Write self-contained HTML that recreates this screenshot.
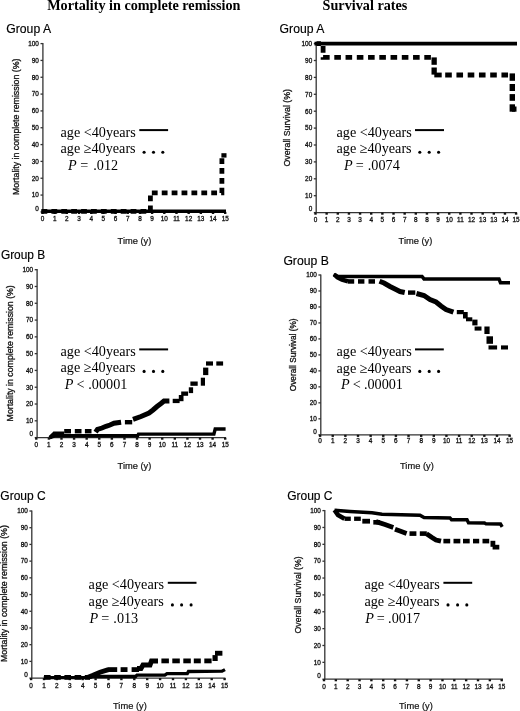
<!DOCTYPE html>
<html><head><meta charset="utf-8"><title>Figure</title>
<style>html,body{margin:0;padding:0;background:#fff;}body{width:520px;height:711px;overflow:hidden;}svg{display:block;will-change:transform;}</style>
</head><body>
<svg width="520" height="711" viewBox="0 0 520 711">
<rect width="520" height="711" fill="#fff"/>
<line x1="42.9" y1="43" x2="42.9" y2="211.9" stroke="#333" stroke-width="1.3"/>
<line x1="40.5" y1="211.9" x2="42.9" y2="211.9" stroke="#333" stroke-width="1.3"/>
<text x="38.9" y="210.6" font-size="6.4" font-family='"Liberation Sans", sans-serif' text-anchor="end" fill="#111" stroke="#111" stroke-width="0.3">0</text>
<line x1="40.5" y1="195.07" x2="42.9" y2="195.07" stroke="#333" stroke-width="1.3"/>
<text x="38.9" y="197.37" font-size="6.4" font-family='"Liberation Sans", sans-serif' text-anchor="end" fill="#111" stroke="#111" stroke-width="0.3">10</text>
<line x1="40.5" y1="178.24" x2="42.9" y2="178.24" stroke="#333" stroke-width="1.3"/>
<text x="38.9" y="180.54" font-size="6.4" font-family='"Liberation Sans", sans-serif' text-anchor="end" fill="#111" stroke="#111" stroke-width="0.3">20</text>
<line x1="40.5" y1="161.41" x2="42.9" y2="161.41" stroke="#333" stroke-width="1.3"/>
<text x="38.9" y="163.71" font-size="6.4" font-family='"Liberation Sans", sans-serif' text-anchor="end" fill="#111" stroke="#111" stroke-width="0.3">30</text>
<line x1="40.5" y1="144.58" x2="42.9" y2="144.58" stroke="#333" stroke-width="1.3"/>
<text x="38.9" y="146.88" font-size="6.4" font-family='"Liberation Sans", sans-serif' text-anchor="end" fill="#111" stroke="#111" stroke-width="0.3">40</text>
<line x1="40.5" y1="127.75" x2="42.9" y2="127.75" stroke="#333" stroke-width="1.3"/>
<text x="38.9" y="130.05" font-size="6.4" font-family='"Liberation Sans", sans-serif' text-anchor="end" fill="#111" stroke="#111" stroke-width="0.3">50</text>
<line x1="40.5" y1="110.92" x2="42.9" y2="110.92" stroke="#333" stroke-width="1.3"/>
<text x="38.9" y="113.22" font-size="6.4" font-family='"Liberation Sans", sans-serif' text-anchor="end" fill="#111" stroke="#111" stroke-width="0.3">60</text>
<line x1="40.5" y1="94.09" x2="42.9" y2="94.09" stroke="#333" stroke-width="1.3"/>
<text x="38.9" y="96.39" font-size="6.4" font-family='"Liberation Sans", sans-serif' text-anchor="end" fill="#111" stroke="#111" stroke-width="0.3">70</text>
<line x1="40.5" y1="77.26" x2="42.9" y2="77.26" stroke="#333" stroke-width="1.3"/>
<text x="38.9" y="79.56" font-size="6.4" font-family='"Liberation Sans", sans-serif' text-anchor="end" fill="#111" stroke="#111" stroke-width="0.3">80</text>
<line x1="40.5" y1="60.43" x2="42.9" y2="60.43" stroke="#333" stroke-width="1.3"/>
<text x="38.9" y="62.73" font-size="6.4" font-family='"Liberation Sans", sans-serif' text-anchor="end" fill="#111" stroke="#111" stroke-width="0.3">90</text>
<line x1="40.5" y1="43.6" x2="42.9" y2="43.6" stroke="#333" stroke-width="1.3"/>
<text x="38.9" y="45.9" font-size="6.4" font-family='"Liberation Sans", sans-serif' text-anchor="end" fill="#111" stroke="#111" stroke-width="0.3">100</text>
<line x1="42.3" y1="211.9" x2="226" y2="211.9" stroke="#333" stroke-width="1.3"/>
<line x1="42.5" y1="211.9" x2="42.5" y2="214" stroke="#111" stroke-width="2.4"/>
<text x="42.5" y="220.8" font-size="6.4" font-family='"Liberation Sans", sans-serif' text-anchor="middle" fill="#111" stroke="#111" stroke-width="0.3">0</text>
<line x1="54.68" y1="211.9" x2="54.68" y2="214" stroke="#111" stroke-width="2.4"/>
<text x="54.68" y="220.8" font-size="6.4" font-family='"Liberation Sans", sans-serif' text-anchor="middle" fill="#111" stroke="#111" stroke-width="0.3">1</text>
<line x1="66.86" y1="211.9" x2="66.86" y2="214" stroke="#111" stroke-width="2.4"/>
<text x="66.86" y="220.8" font-size="6.4" font-family='"Liberation Sans", sans-serif' text-anchor="middle" fill="#111" stroke="#111" stroke-width="0.3">2</text>
<line x1="79.04" y1="211.9" x2="79.04" y2="214" stroke="#111" stroke-width="2.4"/>
<text x="79.04" y="220.8" font-size="6.4" font-family='"Liberation Sans", sans-serif' text-anchor="middle" fill="#111" stroke="#111" stroke-width="0.3">3</text>
<line x1="91.22" y1="211.9" x2="91.22" y2="214" stroke="#111" stroke-width="2.4"/>
<text x="91.22" y="220.8" font-size="6.4" font-family='"Liberation Sans", sans-serif' text-anchor="middle" fill="#111" stroke="#111" stroke-width="0.3">4</text>
<line x1="103.4" y1="211.9" x2="103.4" y2="214" stroke="#111" stroke-width="2.4"/>
<text x="103.4" y="220.8" font-size="6.4" font-family='"Liberation Sans", sans-serif' text-anchor="middle" fill="#111" stroke="#111" stroke-width="0.3">5</text>
<line x1="115.58" y1="211.9" x2="115.58" y2="214" stroke="#111" stroke-width="2.4"/>
<text x="115.58" y="220.8" font-size="6.4" font-family='"Liberation Sans", sans-serif' text-anchor="middle" fill="#111" stroke="#111" stroke-width="0.3">6</text>
<line x1="127.76" y1="211.9" x2="127.76" y2="214" stroke="#111" stroke-width="2.4"/>
<text x="127.76" y="220.8" font-size="6.4" font-family='"Liberation Sans", sans-serif' text-anchor="middle" fill="#111" stroke="#111" stroke-width="0.3">7</text>
<line x1="139.94" y1="211.9" x2="139.94" y2="214" stroke="#111" stroke-width="2.4"/>
<text x="139.94" y="220.8" font-size="6.4" font-family='"Liberation Sans", sans-serif' text-anchor="middle" fill="#111" stroke="#111" stroke-width="0.3">8</text>
<line x1="152.12" y1="211.9" x2="152.12" y2="214" stroke="#111" stroke-width="2.4"/>
<text x="152.12" y="220.8" font-size="6.4" font-family='"Liberation Sans", sans-serif' text-anchor="middle" fill="#111" stroke="#111" stroke-width="0.3">9</text>
<line x1="164.3" y1="211.9" x2="164.3" y2="214" stroke="#111" stroke-width="2.4"/>
<text x="164.3" y="220.8" font-size="6.4" font-family='"Liberation Sans", sans-serif' text-anchor="middle" fill="#111" stroke="#111" stroke-width="0.3">10</text>
<line x1="176.48" y1="211.9" x2="176.48" y2="214" stroke="#111" stroke-width="2.4"/>
<text x="176.48" y="220.8" font-size="6.4" font-family='"Liberation Sans", sans-serif' text-anchor="middle" fill="#111" stroke="#111" stroke-width="0.3">11</text>
<line x1="188.66" y1="211.9" x2="188.66" y2="214" stroke="#111" stroke-width="2.4"/>
<text x="188.66" y="220.8" font-size="6.4" font-family='"Liberation Sans", sans-serif' text-anchor="middle" fill="#111" stroke="#111" stroke-width="0.3">12</text>
<line x1="200.84" y1="211.9" x2="200.84" y2="214" stroke="#111" stroke-width="2.4"/>
<text x="200.84" y="220.8" font-size="6.4" font-family='"Liberation Sans", sans-serif' text-anchor="middle" fill="#111" stroke="#111" stroke-width="0.3">13</text>
<line x1="213.02" y1="211.9" x2="213.02" y2="214" stroke="#111" stroke-width="2.4"/>
<text x="213.02" y="220.8" font-size="6.4" font-family='"Liberation Sans", sans-serif' text-anchor="middle" fill="#111" stroke="#111" stroke-width="0.3">14</text>
<line x1="225.2" y1="211.9" x2="225.2" y2="214" stroke="#111" stroke-width="2.4"/>
<text x="225.2" y="220.8" font-size="6.4" font-family='"Liberation Sans", sans-serif' text-anchor="middle" fill="#111" stroke="#111" stroke-width="0.3">15</text>
<text x="117.6" y="243.6" font-size="9.3" font-family='"Liberation Sans", sans-serif' fill="#111" stroke="#111" stroke-width="0.2">Time (y)</text>
<text x="0" y="0" font-size="8.78" font-family='"Liberation Sans", sans-serif' text-anchor="middle" fill="#111" stroke="#111" stroke-width="0.3" transform="translate(18.7,126.8) rotate(-90)">Mortality in complete remission (%)</text>
<text x="6.3" y="32.5" font-size="12.2" font-family='"Liberation Sans", sans-serif' stroke="#000" stroke-width="0.15">Group A</text>
<polyline points="41.4,211.3 226,211.3" fill="none" stroke="#000" stroke-width="3.4" stroke-linecap="butt" stroke-linejoin="miter"/>
<polyline points="41.5,211.35 150.4,211.35" fill="none" stroke="#000" stroke-width="4.8" stroke-linecap="butt" stroke-linejoin="miter" stroke-dasharray="5.8 4.1"/>
<polyline points="150.4,211.25 150.4,192.9 221.9,192.9 221.9,157.4" fill="none" stroke="#000" stroke-width="4.8" stroke-linecap="butt" stroke-linejoin="miter" stroke-dasharray="5.8 4.1"/>
<rect x="221.4" y="153.2" width="5.1" height="4.4" fill="#000"/>
<text x="60.5" y="137" font-size="14.2" font-family='"Liberation Serif", serif'>age &lt;40years</text>
<text x="60.5" y="153.4" font-size="14.2" font-family='"Liberation Serif", serif'>age ≥40years</text>
<text x="68.1" y="169.8" font-size="14.2" font-family='"Liberation Serif", serif' font-style="italic">P</text>
<text x="80.2" y="169.8" font-size="14.2" font-family='"Liberation Serif", serif'>=</text>
<text x="93.3" y="169.8" font-size="14.2" font-family='"Liberation Serif", serif'>.012</text>
<line x1="139.3" y1="130.1" x2="168.1" y2="130.1" stroke="#000" stroke-width="2"/>
<circle cx="144.1" cy="152.2" r="1.55" fill="#000"/>
<circle cx="153.5" cy="152.2" r="1.55" fill="#000"/>
<circle cx="162.8" cy="152.2" r="1.55" fill="#000"/>
<line x1="316.2" y1="43" x2="316.2" y2="212.6" stroke="#333" stroke-width="1.3"/>
<line x1="313.8" y1="212.6" x2="316.2" y2="212.6" stroke="#333" stroke-width="1.3"/>
<text x="312.2" y="211.3" font-size="6.4" font-family='"Liberation Sans", sans-serif' text-anchor="end" fill="#111" stroke="#111" stroke-width="0.3">0</text>
<line x1="313.8" y1="195.7" x2="316.2" y2="195.7" stroke="#333" stroke-width="1.3"/>
<text x="312.2" y="198" font-size="6.4" font-family='"Liberation Sans", sans-serif' text-anchor="end" fill="#111" stroke="#111" stroke-width="0.3">10</text>
<line x1="313.8" y1="178.8" x2="316.2" y2="178.8" stroke="#333" stroke-width="1.3"/>
<text x="312.2" y="181.1" font-size="6.4" font-family='"Liberation Sans", sans-serif' text-anchor="end" fill="#111" stroke="#111" stroke-width="0.3">20</text>
<line x1="313.8" y1="161.9" x2="316.2" y2="161.9" stroke="#333" stroke-width="1.3"/>
<text x="312.2" y="164.2" font-size="6.4" font-family='"Liberation Sans", sans-serif' text-anchor="end" fill="#111" stroke="#111" stroke-width="0.3">30</text>
<line x1="313.8" y1="145" x2="316.2" y2="145" stroke="#333" stroke-width="1.3"/>
<text x="312.2" y="147.3" font-size="6.4" font-family='"Liberation Sans", sans-serif' text-anchor="end" fill="#111" stroke="#111" stroke-width="0.3">40</text>
<line x1="313.8" y1="128.1" x2="316.2" y2="128.1" stroke="#333" stroke-width="1.3"/>
<text x="312.2" y="130.4" font-size="6.4" font-family='"Liberation Sans", sans-serif' text-anchor="end" fill="#111" stroke="#111" stroke-width="0.3">50</text>
<line x1="313.8" y1="111.2" x2="316.2" y2="111.2" stroke="#333" stroke-width="1.3"/>
<text x="312.2" y="113.5" font-size="6.4" font-family='"Liberation Sans", sans-serif' text-anchor="end" fill="#111" stroke="#111" stroke-width="0.3">60</text>
<line x1="313.8" y1="94.3" x2="316.2" y2="94.3" stroke="#333" stroke-width="1.3"/>
<text x="312.2" y="96.6" font-size="6.4" font-family='"Liberation Sans", sans-serif' text-anchor="end" fill="#111" stroke="#111" stroke-width="0.3">70</text>
<line x1="313.8" y1="77.4" x2="316.2" y2="77.4" stroke="#333" stroke-width="1.3"/>
<text x="312.2" y="79.7" font-size="6.4" font-family='"Liberation Sans", sans-serif' text-anchor="end" fill="#111" stroke="#111" stroke-width="0.3">80</text>
<line x1="313.8" y1="60.5" x2="316.2" y2="60.5" stroke="#333" stroke-width="1.3"/>
<text x="312.2" y="62.8" font-size="6.4" font-family='"Liberation Sans", sans-serif' text-anchor="end" fill="#111" stroke="#111" stroke-width="0.3">90</text>
<line x1="313.8" y1="43.6" x2="316.2" y2="43.6" stroke="#333" stroke-width="1.3"/>
<text x="312.2" y="45.9" font-size="6.4" font-family='"Liberation Sans", sans-serif' text-anchor="end" fill="#111" stroke="#111" stroke-width="0.3">100</text>
<line x1="315.6" y1="212.6" x2="517" y2="212.6" stroke="#333" stroke-width="1.3"/>
<line x1="315.5" y1="212.6" x2="315.5" y2="214.7" stroke="#111" stroke-width="2.4"/>
<text x="315.5" y="222" font-size="6.4" font-family='"Liberation Sans", sans-serif' text-anchor="middle" fill="#111" stroke="#111" stroke-width="0.3">0</text>
<line x1="326.64" y1="212.6" x2="326.64" y2="214.7" stroke="#111" stroke-width="2.4"/>
<text x="326.64" y="222" font-size="6.4" font-family='"Liberation Sans", sans-serif' text-anchor="middle" fill="#111" stroke="#111" stroke-width="0.3">1</text>
<line x1="337.79" y1="212.6" x2="337.79" y2="214.7" stroke="#111" stroke-width="2.4"/>
<text x="337.79" y="222" font-size="6.4" font-family='"Liberation Sans", sans-serif' text-anchor="middle" fill="#111" stroke="#111" stroke-width="0.3">2</text>
<line x1="348.93" y1="212.6" x2="348.93" y2="214.7" stroke="#111" stroke-width="2.4"/>
<text x="348.93" y="222" font-size="6.4" font-family='"Liberation Sans", sans-serif' text-anchor="middle" fill="#111" stroke="#111" stroke-width="0.3">3</text>
<line x1="360.08" y1="212.6" x2="360.08" y2="214.7" stroke="#111" stroke-width="2.4"/>
<text x="360.08" y="222" font-size="6.4" font-family='"Liberation Sans", sans-serif' text-anchor="middle" fill="#111" stroke="#111" stroke-width="0.3">3</text>
<line x1="371.22" y1="212.6" x2="371.22" y2="214.7" stroke="#111" stroke-width="2.4"/>
<text x="371.22" y="222" font-size="6.4" font-family='"Liberation Sans", sans-serif' text-anchor="middle" fill="#111" stroke="#111" stroke-width="0.3">4</text>
<line x1="382.37" y1="212.6" x2="382.37" y2="214.7" stroke="#111" stroke-width="2.4"/>
<text x="382.37" y="222" font-size="6.4" font-family='"Liberation Sans", sans-serif' text-anchor="middle" fill="#111" stroke="#111" stroke-width="0.3">5</text>
<line x1="393.51" y1="212.6" x2="393.51" y2="214.7" stroke="#111" stroke-width="2.4"/>
<text x="393.51" y="222" font-size="6.4" font-family='"Liberation Sans", sans-serif' text-anchor="middle" fill="#111" stroke="#111" stroke-width="0.3">6</text>
<line x1="404.66" y1="212.6" x2="404.66" y2="214.7" stroke="#111" stroke-width="2.4"/>
<text x="404.66" y="222" font-size="6.4" font-family='"Liberation Sans", sans-serif' text-anchor="middle" fill="#111" stroke="#111" stroke-width="0.3">7</text>
<line x1="415.8" y1="212.6" x2="415.8" y2="214.7" stroke="#111" stroke-width="2.4"/>
<text x="415.8" y="222" font-size="6.4" font-family='"Liberation Sans", sans-serif' text-anchor="middle" fill="#111" stroke="#111" stroke-width="0.3">8</text>
<line x1="426.94" y1="212.6" x2="426.94" y2="214.7" stroke="#111" stroke-width="2.4"/>
<text x="426.94" y="222" font-size="6.4" font-family='"Liberation Sans", sans-serif' text-anchor="middle" fill="#111" stroke="#111" stroke-width="0.3">8</text>
<line x1="438.09" y1="212.6" x2="438.09" y2="214.7" stroke="#111" stroke-width="2.4"/>
<text x="438.09" y="222" font-size="6.4" font-family='"Liberation Sans", sans-serif' text-anchor="middle" fill="#111" stroke="#111" stroke-width="0.3">9</text>
<line x1="449.23" y1="212.6" x2="449.23" y2="214.7" stroke="#111" stroke-width="2.4"/>
<text x="449.23" y="222" font-size="6.4" font-family='"Liberation Sans", sans-serif' text-anchor="middle" fill="#111" stroke="#111" stroke-width="0.3">10</text>
<line x1="460.38" y1="212.6" x2="460.38" y2="214.7" stroke="#111" stroke-width="2.4"/>
<text x="460.38" y="222" font-size="6.4" font-family='"Liberation Sans", sans-serif' text-anchor="middle" fill="#111" stroke="#111" stroke-width="0.3">11</text>
<line x1="471.52" y1="212.6" x2="471.52" y2="214.7" stroke="#111" stroke-width="2.4"/>
<text x="471.52" y="222" font-size="6.4" font-family='"Liberation Sans", sans-serif' text-anchor="middle" fill="#111" stroke="#111" stroke-width="0.3">12</text>
<line x1="482.67" y1="212.6" x2="482.67" y2="214.7" stroke="#111" stroke-width="2.4"/>
<text x="482.67" y="222" font-size="6.4" font-family='"Liberation Sans", sans-serif' text-anchor="middle" fill="#111" stroke="#111" stroke-width="0.3">13</text>
<line x1="493.81" y1="212.6" x2="493.81" y2="214.7" stroke="#111" stroke-width="2.4"/>
<text x="493.81" y="222" font-size="6.4" font-family='"Liberation Sans", sans-serif' text-anchor="middle" fill="#111" stroke="#111" stroke-width="0.3">13</text>
<line x1="504.96" y1="212.6" x2="504.96" y2="214.7" stroke="#111" stroke-width="2.4"/>
<text x="504.96" y="222" font-size="6.4" font-family='"Liberation Sans", sans-serif' text-anchor="middle" fill="#111" stroke="#111" stroke-width="0.3">14</text>
<line x1="516.1" y1="212.6" x2="516.1" y2="214.7" stroke="#111" stroke-width="2.4"/>
<text x="516.1" y="222" font-size="6.4" font-family='"Liberation Sans", sans-serif' text-anchor="middle" fill="#111" stroke="#111" stroke-width="0.3">15</text>
<text x="398.6" y="243.6" font-size="9.3" font-family='"Liberation Sans", sans-serif' fill="#111" stroke="#111" stroke-width="0.2">Time (y)</text>
<text x="0" y="0" font-size="8.77" font-family='"Liberation Sans", sans-serif' text-anchor="middle" fill="#111" stroke="#111" stroke-width="0.3" transform="translate(290.2,127.75) rotate(-90)">Overall Survival (%)</text>
<text x="279.6" y="33.2" font-size="12.2" font-family='"Liberation Sans", sans-serif' stroke="#000" stroke-width="0.15">Group A</text>
<polyline points="314.5,43.6 517,43.6" fill="none" stroke="#000" stroke-width="3.8" stroke-linecap="butt" stroke-linejoin="miter"/>
<polyline points="316.5,43.6 323.1,43.6 323.1,57.4 431,57.4" fill="none" stroke="#000" stroke-width="4.8" stroke-linecap="butt" stroke-linejoin="miter" stroke-dasharray="6.6 4.65" stroke-dashoffset="2.15"/>
<polyline points="441.7,75 509,75" fill="none" stroke="#000" stroke-width="4.8" stroke-linecap="butt" stroke-linejoin="miter" stroke-dasharray="6.6 4.65" stroke-dashoffset="7.75"/>
<rect x="431.5" y="57.4" width="5.3" height="7.4" fill="#000"/>
<rect x="431.5" y="67.5" width="5.3" height="7.1" fill="#000"/>
<rect x="434.3" y="72.6" width="7.4" height="4.8" fill="#000"/>
<rect x="509.6" y="73.4" width="5.4" height="7.4" fill="#000"/>
<rect x="509.6" y="84" width="5.4" height="7" fill="#000"/>
<rect x="509.6" y="94.1" width="5.4" height="6.7" fill="#000"/>
<rect x="509.6" y="104.3" width="5.4" height="7.4" fill="#000"/>
<rect x="512" y="106.5" width="4.5" height="5.2" fill="#000"/>
<text x="336.5" y="136.8" font-size="14.2" font-family='"Liberation Serif", serif'>age &lt;40years</text>
<text x="336.5" y="153.45" font-size="14.2" font-family='"Liberation Serif", serif'>age ≥40years</text>
<text x="344" y="170.1" font-size="14.2" font-family='"Liberation Serif", serif' font-style="italic">P</text>
<text x="355.8" y="170.1" font-size="14.2" font-family='"Liberation Serif", serif'>=</text>
<text x="367.8" y="170.1" font-size="14.2" font-family='"Liberation Serif", serif'>.0074</text>
<line x1="415" y1="130.1" x2="444" y2="130.1" stroke="#000" stroke-width="2"/>
<circle cx="419.8" cy="152.3" r="1.55" fill="#000"/>
<circle cx="429.2" cy="152.3" r="1.55" fill="#000"/>
<circle cx="438.6" cy="152.3" r="1.55" fill="#000"/>
<line x1="37.1" y1="269.1" x2="37.1" y2="437.6" stroke="#333" stroke-width="1.3"/>
<line x1="34.7" y1="437.6" x2="37.1" y2="437.6" stroke="#333" stroke-width="1.3"/>
<text x="33.1" y="436.3" font-size="6.4" font-family='"Liberation Sans", sans-serif' text-anchor="end" fill="#111" stroke="#111" stroke-width="0.3">0</text>
<line x1="34.7" y1="420.81" x2="37.1" y2="420.81" stroke="#333" stroke-width="1.3"/>
<text x="33.1" y="423.11" font-size="6.4" font-family='"Liberation Sans", sans-serif' text-anchor="end" fill="#111" stroke="#111" stroke-width="0.3">10</text>
<line x1="34.7" y1="404.02" x2="37.1" y2="404.02" stroke="#333" stroke-width="1.3"/>
<text x="33.1" y="406.32" font-size="6.4" font-family='"Liberation Sans", sans-serif' text-anchor="end" fill="#111" stroke="#111" stroke-width="0.3">20</text>
<line x1="34.7" y1="387.23" x2="37.1" y2="387.23" stroke="#333" stroke-width="1.3"/>
<text x="33.1" y="389.53" font-size="6.4" font-family='"Liberation Sans", sans-serif' text-anchor="end" fill="#111" stroke="#111" stroke-width="0.3">30</text>
<line x1="34.7" y1="370.44" x2="37.1" y2="370.44" stroke="#333" stroke-width="1.3"/>
<text x="33.1" y="372.74" font-size="6.4" font-family='"Liberation Sans", sans-serif' text-anchor="end" fill="#111" stroke="#111" stroke-width="0.3">40</text>
<line x1="34.7" y1="353.65" x2="37.1" y2="353.65" stroke="#333" stroke-width="1.3"/>
<text x="33.1" y="355.95" font-size="6.4" font-family='"Liberation Sans", sans-serif' text-anchor="end" fill="#111" stroke="#111" stroke-width="0.3">50</text>
<line x1="34.7" y1="336.86" x2="37.1" y2="336.86" stroke="#333" stroke-width="1.3"/>
<text x="33.1" y="339.16" font-size="6.4" font-family='"Liberation Sans", sans-serif' text-anchor="end" fill="#111" stroke="#111" stroke-width="0.3">60</text>
<line x1="34.7" y1="320.07" x2="37.1" y2="320.07" stroke="#333" stroke-width="1.3"/>
<text x="33.1" y="322.37" font-size="6.4" font-family='"Liberation Sans", sans-serif' text-anchor="end" fill="#111" stroke="#111" stroke-width="0.3">70</text>
<line x1="34.7" y1="303.28" x2="37.1" y2="303.28" stroke="#333" stroke-width="1.3"/>
<text x="33.1" y="305.58" font-size="6.4" font-family='"Liberation Sans", sans-serif' text-anchor="end" fill="#111" stroke="#111" stroke-width="0.3">80</text>
<line x1="34.7" y1="286.49" x2="37.1" y2="286.49" stroke="#333" stroke-width="1.3"/>
<text x="33.1" y="288.79" font-size="6.4" font-family='"Liberation Sans", sans-serif' text-anchor="end" fill="#111" stroke="#111" stroke-width="0.3">90</text>
<line x1="34.7" y1="269.7" x2="37.1" y2="269.7" stroke="#333" stroke-width="1.3"/>
<text x="33.1" y="272" font-size="6.4" font-family='"Liberation Sans", sans-serif' text-anchor="end" fill="#111" stroke="#111" stroke-width="0.3">100</text>
<line x1="36.5" y1="437.6" x2="226" y2="437.6" stroke="#333" stroke-width="1.3"/>
<line x1="36.3" y1="437.6" x2="36.3" y2="439.7" stroke="#111" stroke-width="2.4"/>
<text x="36.3" y="447.3" font-size="6.4" font-family='"Liberation Sans", sans-serif' text-anchor="middle" fill="#111" stroke="#111" stroke-width="0.3">0</text>
<line x1="48.89" y1="437.6" x2="48.89" y2="439.7" stroke="#111" stroke-width="2.4"/>
<text x="48.89" y="447.3" font-size="6.4" font-family='"Liberation Sans", sans-serif' text-anchor="middle" fill="#111" stroke="#111" stroke-width="0.3">1</text>
<line x1="61.49" y1="437.6" x2="61.49" y2="439.7" stroke="#111" stroke-width="2.4"/>
<text x="61.49" y="447.3" font-size="6.4" font-family='"Liberation Sans", sans-serif' text-anchor="middle" fill="#111" stroke="#111" stroke-width="0.3">2</text>
<line x1="74.08" y1="437.6" x2="74.08" y2="439.7" stroke="#111" stroke-width="2.4"/>
<text x="74.08" y="447.3" font-size="6.4" font-family='"Liberation Sans", sans-serif' text-anchor="middle" fill="#111" stroke="#111" stroke-width="0.3">3</text>
<line x1="86.67" y1="437.6" x2="86.67" y2="439.7" stroke="#111" stroke-width="2.4"/>
<text x="86.67" y="447.3" font-size="6.4" font-family='"Liberation Sans", sans-serif' text-anchor="middle" fill="#111" stroke="#111" stroke-width="0.3">4</text>
<line x1="99.27" y1="437.6" x2="99.27" y2="439.7" stroke="#111" stroke-width="2.4"/>
<text x="99.27" y="447.3" font-size="6.4" font-family='"Liberation Sans", sans-serif' text-anchor="middle" fill="#111" stroke="#111" stroke-width="0.3">5</text>
<line x1="111.86" y1="437.6" x2="111.86" y2="439.7" stroke="#111" stroke-width="2.4"/>
<text x="111.86" y="447.3" font-size="6.4" font-family='"Liberation Sans", sans-serif' text-anchor="middle" fill="#111" stroke="#111" stroke-width="0.3">6</text>
<line x1="124.45" y1="437.6" x2="124.45" y2="439.7" stroke="#111" stroke-width="2.4"/>
<text x="124.45" y="447.3" font-size="6.4" font-family='"Liberation Sans", sans-serif' text-anchor="middle" fill="#111" stroke="#111" stroke-width="0.3">7</text>
<line x1="137.05" y1="437.6" x2="137.05" y2="439.7" stroke="#111" stroke-width="2.4"/>
<text x="137.05" y="447.3" font-size="6.4" font-family='"Liberation Sans", sans-serif' text-anchor="middle" fill="#111" stroke="#111" stroke-width="0.3">8</text>
<line x1="149.64" y1="437.6" x2="149.64" y2="439.7" stroke="#111" stroke-width="2.4"/>
<text x="149.64" y="447.3" font-size="6.4" font-family='"Liberation Sans", sans-serif' text-anchor="middle" fill="#111" stroke="#111" stroke-width="0.3">9</text>
<line x1="162.23" y1="437.6" x2="162.23" y2="439.7" stroke="#111" stroke-width="2.4"/>
<text x="162.23" y="447.3" font-size="6.4" font-family='"Liberation Sans", sans-serif' text-anchor="middle" fill="#111" stroke="#111" stroke-width="0.3">10</text>
<line x1="174.83" y1="437.6" x2="174.83" y2="439.7" stroke="#111" stroke-width="2.4"/>
<text x="174.83" y="447.3" font-size="6.4" font-family='"Liberation Sans", sans-serif' text-anchor="middle" fill="#111" stroke="#111" stroke-width="0.3">11</text>
<line x1="187.42" y1="437.6" x2="187.42" y2="439.7" stroke="#111" stroke-width="2.4"/>
<text x="187.42" y="447.3" font-size="6.4" font-family='"Liberation Sans", sans-serif' text-anchor="middle" fill="#111" stroke="#111" stroke-width="0.3">12</text>
<line x1="200.01" y1="437.6" x2="200.01" y2="439.7" stroke="#111" stroke-width="2.4"/>
<text x="200.01" y="447.3" font-size="6.4" font-family='"Liberation Sans", sans-serif' text-anchor="middle" fill="#111" stroke="#111" stroke-width="0.3">13</text>
<line x1="212.61" y1="437.6" x2="212.61" y2="439.7" stroke="#111" stroke-width="2.4"/>
<text x="212.61" y="447.3" font-size="6.4" font-family='"Liberation Sans", sans-serif' text-anchor="middle" fill="#111" stroke="#111" stroke-width="0.3">14</text>
<line x1="225.2" y1="437.6" x2="225.2" y2="439.7" stroke="#111" stroke-width="2.4"/>
<text x="225.2" y="447.3" font-size="6.4" font-family='"Liberation Sans", sans-serif' text-anchor="middle" fill="#111" stroke="#111" stroke-width="0.3">15</text>
<text x="117.6" y="469.2" font-size="9.3" font-family='"Liberation Sans", sans-serif' fill="#111" stroke="#111" stroke-width="0.2">Time (y)</text>
<text x="0" y="0" font-size="8.76" font-family='"Liberation Sans", sans-serif' text-anchor="middle" fill="#111" stroke="#111" stroke-width="0.3" transform="translate(12.8,353.3) rotate(-90)">Mortality in complete remission (%)</text>
<text x="0.9" y="259.2" font-size="11.9" font-family='"Liberation Sans", sans-serif' stroke="#000" stroke-width="0.15">Group B</text>
<polyline points="49.8,437.6 55.5,435.7 137.7,435.7 138.5,434.1 213.9,434.1 215.2,429 225.6,429" fill="none" stroke="#000" stroke-width="3.4" stroke-linecap="butt" stroke-linejoin="miter"/>
<polyline points="49.8,437.6 55,432.6" fill="none" stroke="#000" stroke-width="3.6" stroke-linecap="butt" stroke-linejoin="miter"/>
<polyline points="95.6,432.2 97.5,429.3 102,428 106,426.3 110,425 114,423.2 121.1,422.2" fill="none" stroke="#000" stroke-width="4.9" stroke-linecap="butt" stroke-linejoin="miter"/>
<polyline points="133,419.3 141,416.5 149,413 153,410 157,406.5 161,403.5 164,401 169.4,400.9" fill="none" stroke="#000" stroke-width="5" stroke-linecap="butt" stroke-linejoin="miter"/>
<rect x="54.1" y="431.5" width="10.1" height="3.4" fill="#000"/>
<rect x="64.2" y="429" width="6.8" height="4.4" fill="#000"/>
<rect x="74.8" y="429" width="6.7" height="4.4" fill="#000"/>
<rect x="84.9" y="429" width="6.6" height="4.4" fill="#000"/>
<rect x="124.9" y="420" width="7.3" height="4.4" fill="#000"/>
<rect x="172.7" y="398.8" width="6.9" height="4.3" fill="#000"/>
<rect x="178.8" y="395" width="4.7" height="6.2" fill="#000"/>
<rect x="181.2" y="391.5" width="6.9" height="4.3" fill="#000"/>
<rect x="188.8" y="387.3" width="4.3" height="5.8" fill="#000"/>
<rect x="190.4" y="381.5" width="7.3" height="4.3" fill="#000"/>
<rect x="200.8" y="377.7" width="4.2" height="8" fill="#000"/>
<rect x="203.1" y="367.6" width="5.2" height="7.5" fill="#000"/>
<rect x="206" y="361.4" width="7" height="4.2" fill="#000"/>
<rect x="216.3" y="361.4" width="6.8" height="4.2" fill="#000"/>
<text x="60.5" y="355.7" font-size="14.2" font-family='"Liberation Serif", serif'>age &lt;40years</text>
<text x="60.5" y="372.45" font-size="14.2" font-family='"Liberation Serif", serif'>age ≥40years</text>
<text x="64.7" y="389.2" font-size="14.2" font-family='"Liberation Serif", serif' font-style="italic">P</text>
<text x="76.6" y="389.2" font-size="14.2" font-family='"Liberation Serif", serif'>&lt;</text>
<text x="88.3" y="389.2" font-size="14.2" font-family='"Liberation Serif", serif'>.00001</text>
<line x1="139.2" y1="349.4" x2="168.1" y2="349.4" stroke="#000" stroke-width="2"/>
<circle cx="144.1" cy="371.4" r="1.55" fill="#000"/>
<circle cx="153.5" cy="371.4" r="1.55" fill="#000"/>
<circle cx="162.8" cy="371.4" r="1.55" fill="#000"/>
<line x1="320.8" y1="274.4" x2="320.8" y2="434.8" stroke="#333" stroke-width="1.3"/>
<line x1="318.4" y1="434.8" x2="320.8" y2="434.8" stroke="#333" stroke-width="1.3"/>
<text x="316.8" y="433.5" font-size="6.4" font-family='"Liberation Sans", sans-serif' text-anchor="end" fill="#111" stroke="#111" stroke-width="0.3">0</text>
<line x1="318.4" y1="418.82" x2="320.8" y2="418.82" stroke="#333" stroke-width="1.3"/>
<text x="316.8" y="421.12" font-size="6.4" font-family='"Liberation Sans", sans-serif' text-anchor="end" fill="#111" stroke="#111" stroke-width="0.3">10</text>
<line x1="318.4" y1="402.84" x2="320.8" y2="402.84" stroke="#333" stroke-width="1.3"/>
<text x="316.8" y="405.14" font-size="6.4" font-family='"Liberation Sans", sans-serif' text-anchor="end" fill="#111" stroke="#111" stroke-width="0.3">20</text>
<line x1="318.4" y1="386.86" x2="320.8" y2="386.86" stroke="#333" stroke-width="1.3"/>
<text x="316.8" y="389.16" font-size="6.4" font-family='"Liberation Sans", sans-serif' text-anchor="end" fill="#111" stroke="#111" stroke-width="0.3">30</text>
<line x1="318.4" y1="370.88" x2="320.8" y2="370.88" stroke="#333" stroke-width="1.3"/>
<text x="316.8" y="373.18" font-size="6.4" font-family='"Liberation Sans", sans-serif' text-anchor="end" fill="#111" stroke="#111" stroke-width="0.3">40</text>
<line x1="318.4" y1="354.9" x2="320.8" y2="354.9" stroke="#333" stroke-width="1.3"/>
<text x="316.8" y="357.2" font-size="6.4" font-family='"Liberation Sans", sans-serif' text-anchor="end" fill="#111" stroke="#111" stroke-width="0.3">50</text>
<line x1="318.4" y1="338.92" x2="320.8" y2="338.92" stroke="#333" stroke-width="1.3"/>
<text x="316.8" y="341.22" font-size="6.4" font-family='"Liberation Sans", sans-serif' text-anchor="end" fill="#111" stroke="#111" stroke-width="0.3">60</text>
<line x1="318.4" y1="322.94" x2="320.8" y2="322.94" stroke="#333" stroke-width="1.3"/>
<text x="316.8" y="325.24" font-size="6.4" font-family='"Liberation Sans", sans-serif' text-anchor="end" fill="#111" stroke="#111" stroke-width="0.3">70</text>
<line x1="318.4" y1="306.96" x2="320.8" y2="306.96" stroke="#333" stroke-width="1.3"/>
<text x="316.8" y="309.26" font-size="6.4" font-family='"Liberation Sans", sans-serif' text-anchor="end" fill="#111" stroke="#111" stroke-width="0.3">80</text>
<line x1="318.4" y1="290.98" x2="320.8" y2="290.98" stroke="#333" stroke-width="1.3"/>
<text x="316.8" y="293.28" font-size="6.4" font-family='"Liberation Sans", sans-serif' text-anchor="end" fill="#111" stroke="#111" stroke-width="0.3">90</text>
<line x1="318.4" y1="275" x2="320.8" y2="275" stroke="#333" stroke-width="1.3"/>
<text x="316.8" y="277.3" font-size="6.4" font-family='"Liberation Sans", sans-serif' text-anchor="end" fill="#111" stroke="#111" stroke-width="0.3">100</text>
<line x1="320.2" y1="434.8" x2="510.5" y2="434.8" stroke="#333" stroke-width="1.3"/>
<line x1="320.1" y1="434.8" x2="320.1" y2="436.9" stroke="#111" stroke-width="2.4"/>
<text x="320.1" y="443.1" font-size="6.4" font-family='"Liberation Sans", sans-serif' text-anchor="middle" fill="#111" stroke="#111" stroke-width="0.3">0</text>
<line x1="332.73" y1="434.8" x2="332.73" y2="436.9" stroke="#111" stroke-width="2.4"/>
<text x="332.73" y="443.1" font-size="6.4" font-family='"Liberation Sans", sans-serif' text-anchor="middle" fill="#111" stroke="#111" stroke-width="0.3">1</text>
<line x1="345.37" y1="434.8" x2="345.37" y2="436.9" stroke="#111" stroke-width="2.4"/>
<text x="345.37" y="443.1" font-size="6.4" font-family='"Liberation Sans", sans-serif' text-anchor="middle" fill="#111" stroke="#111" stroke-width="0.3">2</text>
<line x1="358" y1="434.8" x2="358" y2="436.9" stroke="#111" stroke-width="2.4"/>
<text x="358" y="443.1" font-size="6.4" font-family='"Liberation Sans", sans-serif' text-anchor="middle" fill="#111" stroke="#111" stroke-width="0.3">3</text>
<line x1="370.63" y1="434.8" x2="370.63" y2="436.9" stroke="#111" stroke-width="2.4"/>
<text x="370.63" y="443.1" font-size="6.4" font-family='"Liberation Sans", sans-serif' text-anchor="middle" fill="#111" stroke="#111" stroke-width="0.3">4</text>
<line x1="383.27" y1="434.8" x2="383.27" y2="436.9" stroke="#111" stroke-width="2.4"/>
<text x="383.27" y="443.1" font-size="6.4" font-family='"Liberation Sans", sans-serif' text-anchor="middle" fill="#111" stroke="#111" stroke-width="0.3">5</text>
<line x1="395.9" y1="434.8" x2="395.9" y2="436.9" stroke="#111" stroke-width="2.4"/>
<text x="395.9" y="443.1" font-size="6.4" font-family='"Liberation Sans", sans-serif' text-anchor="middle" fill="#111" stroke="#111" stroke-width="0.3">6</text>
<line x1="408.53" y1="434.8" x2="408.53" y2="436.9" stroke="#111" stroke-width="2.4"/>
<text x="408.53" y="443.1" font-size="6.4" font-family='"Liberation Sans", sans-serif' text-anchor="middle" fill="#111" stroke="#111" stroke-width="0.3">7</text>
<line x1="421.17" y1="434.8" x2="421.17" y2="436.9" stroke="#111" stroke-width="2.4"/>
<text x="421.17" y="443.1" font-size="6.4" font-family='"Liberation Sans", sans-serif' text-anchor="middle" fill="#111" stroke="#111" stroke-width="0.3">8</text>
<line x1="433.8" y1="434.8" x2="433.8" y2="436.9" stroke="#111" stroke-width="2.4"/>
<text x="433.8" y="443.1" font-size="6.4" font-family='"Liberation Sans", sans-serif' text-anchor="middle" fill="#111" stroke="#111" stroke-width="0.3">9</text>
<line x1="446.43" y1="434.8" x2="446.43" y2="436.9" stroke="#111" stroke-width="2.4"/>
<text x="446.43" y="443.1" font-size="6.4" font-family='"Liberation Sans", sans-serif' text-anchor="middle" fill="#111" stroke="#111" stroke-width="0.3">10</text>
<line x1="459.07" y1="434.8" x2="459.07" y2="436.9" stroke="#111" stroke-width="2.4"/>
<text x="459.07" y="443.1" font-size="6.4" font-family='"Liberation Sans", sans-serif' text-anchor="middle" fill="#111" stroke="#111" stroke-width="0.3">11</text>
<line x1="471.7" y1="434.8" x2="471.7" y2="436.9" stroke="#111" stroke-width="2.4"/>
<text x="471.7" y="443.1" font-size="6.4" font-family='"Liberation Sans", sans-serif' text-anchor="middle" fill="#111" stroke="#111" stroke-width="0.3">12</text>
<line x1="484.33" y1="434.8" x2="484.33" y2="436.9" stroke="#111" stroke-width="2.4"/>
<text x="484.33" y="443.1" font-size="6.4" font-family='"Liberation Sans", sans-serif' text-anchor="middle" fill="#111" stroke="#111" stroke-width="0.3">13</text>
<line x1="496.97" y1="434.8" x2="496.97" y2="436.9" stroke="#111" stroke-width="2.4"/>
<text x="496.97" y="443.1" font-size="6.4" font-family='"Liberation Sans", sans-serif' text-anchor="middle" fill="#111" stroke="#111" stroke-width="0.3">14</text>
<line x1="509.6" y1="434.8" x2="509.6" y2="436.9" stroke="#111" stroke-width="2.4"/>
<text x="509.6" y="443.1" font-size="6.4" font-family='"Liberation Sans", sans-serif' text-anchor="middle" fill="#111" stroke="#111" stroke-width="0.3">15</text>
<text x="400" y="469.2" font-size="9.3" font-family='"Liberation Sans", sans-serif' fill="#111" stroke="#111" stroke-width="0.2">Time (y)</text>
<text x="0" y="0" font-size="8.23" font-family='"Liberation Sans", sans-serif' text-anchor="middle" fill="#111" stroke="#111" stroke-width="0.3" transform="translate(296.2,354.85) rotate(-90)">Overall Survival (%)</text>
<text x="283.4" y="264.9" font-size="12.2" font-family='"Liberation Sans", sans-serif' stroke="#000" stroke-width="0.15">Group B</text>
<polyline points="333.5,274.5 338,276.4 422,276.4 424,278.9 499,278.9 500.5,282.8 510,282.8" fill="none" stroke="#000" stroke-width="3.5" stroke-linecap="butt" stroke-linejoin="miter"/>
<polyline points="334.2,274.3 337.5,277.5 342,279.6 348,281.4" fill="none" stroke="#000" stroke-width="4.4" stroke-linecap="butt" stroke-linejoin="miter"/>
<polyline points="379.5,281.2 384,283 390,286.5 396,289.5 400,291.5 404.7,292.5" fill="none" stroke="#000" stroke-width="5" stroke-linecap="butt" stroke-linejoin="miter"/>
<polyline points="416.5,293.5 424,295.5 430,299.5 436,302 441,306 446,309.5 453.4,312.2" fill="none" stroke="#000" stroke-width="5" stroke-linecap="butt" stroke-linejoin="miter"/>
<rect x="347.8" y="279.2" width="6.4" height="4.5" fill="#000"/>
<rect x="358" y="279.2" width="6.4" height="4.5" fill="#000"/>
<rect x="368.5" y="279.2" width="6.5" height="4.5" fill="#000"/>
<rect x="408" y="290.4" width="7.3" height="4.4" fill="#000"/>
<rect x="456.8" y="310" width="7" height="4.2" fill="#000"/>
<rect x="463" y="312" width="4.7" height="6.5" fill="#000"/>
<rect x="466" y="317.3" width="6.3" height="4" fill="#000"/>
<rect x="472.3" y="319.6" width="5.2" height="5.8" fill="#000"/>
<rect x="474.6" y="326.5" width="6.9" height="4.1" fill="#000"/>
<rect x="484.4" y="326.5" width="5.2" height="7.5" fill="#000"/>
<rect x="486.5" y="336.3" width="6.5" height="7.5" fill="#000"/>
<rect x="488.5" y="345.4" width="8.6" height="4.1" fill="#000"/>
<rect x="501" y="345.4" width="7" height="4.1" fill="#000"/>
<text x="336.5" y="355.9" font-size="14.2" font-family='"Liberation Serif", serif'>age &lt;40years</text>
<text x="336.5" y="372.65" font-size="14.2" font-family='"Liberation Serif", serif'>age ≥40years</text>
<text x="341" y="389.4" font-size="14.2" font-family='"Liberation Serif", serif' font-style="italic">P</text>
<text x="352.7" y="389.4" font-size="14.2" font-family='"Liberation Serif", serif'>&lt;</text>
<text x="363.9" y="389.4" font-size="14.2" font-family='"Liberation Serif", serif'>.00001</text>
<line x1="415" y1="349.4" x2="443.8" y2="349.4" stroke="#000" stroke-width="2"/>
<circle cx="419.8" cy="371.4" r="1.55" fill="#000"/>
<circle cx="429.2" cy="371.4" r="1.55" fill="#000"/>
<circle cx="438.6" cy="371.4" r="1.55" fill="#000"/>
<line x1="31.8" y1="510.4" x2="31.8" y2="678.1" stroke="#333" stroke-width="1.3"/>
<line x1="29.4" y1="678.1" x2="31.8" y2="678.1" stroke="#333" stroke-width="1.3"/>
<text x="27.8" y="676.8" font-size="6.4" font-family='"Liberation Sans", sans-serif' text-anchor="end" fill="#111" stroke="#111" stroke-width="0.3">0</text>
<line x1="29.4" y1="661.39" x2="31.8" y2="661.39" stroke="#333" stroke-width="1.3"/>
<text x="27.8" y="663.69" font-size="6.4" font-family='"Liberation Sans", sans-serif' text-anchor="end" fill="#111" stroke="#111" stroke-width="0.3">10</text>
<line x1="29.4" y1="644.68" x2="31.8" y2="644.68" stroke="#333" stroke-width="1.3"/>
<text x="27.8" y="646.98" font-size="6.4" font-family='"Liberation Sans", sans-serif' text-anchor="end" fill="#111" stroke="#111" stroke-width="0.3">20</text>
<line x1="29.4" y1="627.97" x2="31.8" y2="627.97" stroke="#333" stroke-width="1.3"/>
<text x="27.8" y="630.27" font-size="6.4" font-family='"Liberation Sans", sans-serif' text-anchor="end" fill="#111" stroke="#111" stroke-width="0.3">30</text>
<line x1="29.4" y1="611.26" x2="31.8" y2="611.26" stroke="#333" stroke-width="1.3"/>
<text x="27.8" y="613.56" font-size="6.4" font-family='"Liberation Sans", sans-serif' text-anchor="end" fill="#111" stroke="#111" stroke-width="0.3">40</text>
<line x1="29.4" y1="594.55" x2="31.8" y2="594.55" stroke="#333" stroke-width="1.3"/>
<text x="27.8" y="596.85" font-size="6.4" font-family='"Liberation Sans", sans-serif' text-anchor="end" fill="#111" stroke="#111" stroke-width="0.3">50</text>
<line x1="29.4" y1="577.84" x2="31.8" y2="577.84" stroke="#333" stroke-width="1.3"/>
<text x="27.8" y="580.14" font-size="6.4" font-family='"Liberation Sans", sans-serif' text-anchor="end" fill="#111" stroke="#111" stroke-width="0.3">60</text>
<line x1="29.4" y1="561.13" x2="31.8" y2="561.13" stroke="#333" stroke-width="1.3"/>
<text x="27.8" y="563.43" font-size="6.4" font-family='"Liberation Sans", sans-serif' text-anchor="end" fill="#111" stroke="#111" stroke-width="0.3">70</text>
<line x1="29.4" y1="544.42" x2="31.8" y2="544.42" stroke="#333" stroke-width="1.3"/>
<text x="27.8" y="546.72" font-size="6.4" font-family='"Liberation Sans", sans-serif' text-anchor="end" fill="#111" stroke="#111" stroke-width="0.3">80</text>
<line x1="29.4" y1="527.71" x2="31.8" y2="527.71" stroke="#333" stroke-width="1.3"/>
<text x="27.8" y="530.01" font-size="6.4" font-family='"Liberation Sans", sans-serif' text-anchor="end" fill="#111" stroke="#111" stroke-width="0.3">90</text>
<line x1="29.4" y1="511" x2="31.8" y2="511" stroke="#333" stroke-width="1.3"/>
<text x="27.8" y="513.3" font-size="6.4" font-family='"Liberation Sans", sans-serif' text-anchor="end" fill="#111" stroke="#111" stroke-width="0.3">100</text>
<line x1="31.2" y1="678.1" x2="225.4" y2="678.1" stroke="#333" stroke-width="1.3"/>
<line x1="31.1" y1="678.1" x2="31.1" y2="680.2" stroke="#111" stroke-width="2.4"/>
<text x="31.1" y="687.8" font-size="6.4" font-family='"Liberation Sans", sans-serif' text-anchor="middle" fill="#111" stroke="#111" stroke-width="0.3">0</text>
<line x1="44" y1="678.1" x2="44" y2="680.2" stroke="#111" stroke-width="2.4"/>
<text x="44" y="687.8" font-size="6.4" font-family='"Liberation Sans", sans-serif' text-anchor="middle" fill="#111" stroke="#111" stroke-width="0.3">1</text>
<line x1="56.9" y1="678.1" x2="56.9" y2="680.2" stroke="#111" stroke-width="2.4"/>
<text x="56.9" y="687.8" font-size="6.4" font-family='"Liberation Sans", sans-serif' text-anchor="middle" fill="#111" stroke="#111" stroke-width="0.3">2</text>
<line x1="69.8" y1="678.1" x2="69.8" y2="680.2" stroke="#111" stroke-width="2.4"/>
<text x="69.8" y="687.8" font-size="6.4" font-family='"Liberation Sans", sans-serif' text-anchor="middle" fill="#111" stroke="#111" stroke-width="0.3">3</text>
<line x1="82.7" y1="678.1" x2="82.7" y2="680.2" stroke="#111" stroke-width="2.4"/>
<text x="82.7" y="687.8" font-size="6.4" font-family='"Liberation Sans", sans-serif' text-anchor="middle" fill="#111" stroke="#111" stroke-width="0.3">4</text>
<line x1="95.6" y1="678.1" x2="95.6" y2="680.2" stroke="#111" stroke-width="2.4"/>
<text x="95.6" y="687.8" font-size="6.4" font-family='"Liberation Sans", sans-serif' text-anchor="middle" fill="#111" stroke="#111" stroke-width="0.3">5</text>
<line x1="108.5" y1="678.1" x2="108.5" y2="680.2" stroke="#111" stroke-width="2.4"/>
<text x="108.5" y="687.8" font-size="6.4" font-family='"Liberation Sans", sans-serif' text-anchor="middle" fill="#111" stroke="#111" stroke-width="0.3">6</text>
<line x1="121.4" y1="678.1" x2="121.4" y2="680.2" stroke="#111" stroke-width="2.4"/>
<text x="121.4" y="687.8" font-size="6.4" font-family='"Liberation Sans", sans-serif' text-anchor="middle" fill="#111" stroke="#111" stroke-width="0.3">7</text>
<line x1="134.3" y1="678.1" x2="134.3" y2="680.2" stroke="#111" stroke-width="2.4"/>
<text x="134.3" y="687.8" font-size="6.4" font-family='"Liberation Sans", sans-serif' text-anchor="middle" fill="#111" stroke="#111" stroke-width="0.3">8</text>
<line x1="147.2" y1="678.1" x2="147.2" y2="680.2" stroke="#111" stroke-width="2.4"/>
<text x="147.2" y="687.8" font-size="6.4" font-family='"Liberation Sans", sans-serif' text-anchor="middle" fill="#111" stroke="#111" stroke-width="0.3">9</text>
<line x1="160.1" y1="678.1" x2="160.1" y2="680.2" stroke="#111" stroke-width="2.4"/>
<text x="160.1" y="687.8" font-size="6.4" font-family='"Liberation Sans", sans-serif' text-anchor="middle" fill="#111" stroke="#111" stroke-width="0.3">10</text>
<line x1="173" y1="678.1" x2="173" y2="680.2" stroke="#111" stroke-width="2.4"/>
<text x="173" y="687.8" font-size="6.4" font-family='"Liberation Sans", sans-serif' text-anchor="middle" fill="#111" stroke="#111" stroke-width="0.3">11</text>
<line x1="185.9" y1="678.1" x2="185.9" y2="680.2" stroke="#111" stroke-width="2.4"/>
<text x="185.9" y="687.8" font-size="6.4" font-family='"Liberation Sans", sans-serif' text-anchor="middle" fill="#111" stroke="#111" stroke-width="0.3">12</text>
<line x1="198.8" y1="678.1" x2="198.8" y2="680.2" stroke="#111" stroke-width="2.4"/>
<text x="198.8" y="687.8" font-size="6.4" font-family='"Liberation Sans", sans-serif' text-anchor="middle" fill="#111" stroke="#111" stroke-width="0.3">13</text>
<line x1="211.7" y1="678.1" x2="211.7" y2="680.2" stroke="#111" stroke-width="2.4"/>
<text x="211.7" y="687.8" font-size="6.4" font-family='"Liberation Sans", sans-serif' text-anchor="middle" fill="#111" stroke="#111" stroke-width="0.3">14</text>
<line x1="224.6" y1="678.1" x2="224.6" y2="680.2" stroke="#111" stroke-width="2.4"/>
<text x="224.6" y="687.8" font-size="6.4" font-family='"Liberation Sans", sans-serif' text-anchor="middle" fill="#111" stroke="#111" stroke-width="0.3">15</text>
<text x="113" y="708.9" font-size="9.3" font-family='"Liberation Sans", sans-serif' fill="#111" stroke="#111" stroke-width="0.2">Time (y)</text>
<text x="0" y="0" font-size="8.8" font-family='"Liberation Sans", sans-serif' text-anchor="middle" fill="#111" stroke="#111" stroke-width="0.3" transform="translate(7.1,593.6) rotate(-90)">Mortality in complete remission (%)</text>
<text x="0.3" y="499.7" font-size="12" font-family='"Liberation Sans", sans-serif' stroke="#000" stroke-width="0.15">Group C</text>
<polyline points="43.8,677.6 89.6,677.6 93,676.5 135.6,676.5 137,675.1 164.8,675.1 167,673.6 187.3,673.6 188.5,671.5 222,671.2 225,669.6" fill="none" stroke="#000" stroke-width="3.3" stroke-linecap="butt" stroke-linejoin="miter"/>
<polyline points="43.8,677.4 90,677.4" fill="none" stroke="#000" stroke-width="4.6" stroke-linecap="butt" stroke-linejoin="miter" stroke-dasharray="6.6 3.6" stroke-dashoffset="10"/>
<polyline points="88,677.2 93,675.3 100,672.3 108.5,669.6" fill="none" stroke="#000" stroke-width="4.8" stroke-linecap="butt" stroke-linejoin="miter"/>
<polyline points="137,668.4 141,668.4 143,665 150,665 151.5,660.9 158,660.9" fill="none" stroke="#000" stroke-width="5" stroke-linecap="butt" stroke-linejoin="miter"/>
<rect x="107.9" y="667.2" width="9.3" height="4.8" fill="#000"/>
<rect x="120.6" y="667.2" width="6.9" height="4.8" fill="#000"/>
<rect x="131.6" y="667.2" width="7.4" height="4.8" fill="#000"/>
<rect x="161.4" y="658.5" width="7.5" height="4.8" fill="#000"/>
<rect x="172.3" y="658.5" width="7.5" height="4.8" fill="#000"/>
<rect x="183.3" y="658.5" width="7.5" height="4.8" fill="#000"/>
<rect x="193.8" y="658.5" width="7" height="4.8" fill="#000"/>
<rect x="204.3" y="658.5" width="7.3" height="4.8" fill="#000"/>
<rect x="212.5" y="655.1" width="5.2" height="5.9" fill="#000"/>
<rect x="215" y="650.8" width="7.4" height="4.9" fill="#000"/>
<text x="88.6" y="589.1" font-size="14.2" font-family='"Liberation Serif", serif'>age &lt;40years</text>
<text x="88.6" y="606.05" font-size="14.2" font-family='"Liberation Serif", serif'>age ≥40years</text>
<text x="89.4" y="623" font-size="14.2" font-family='"Liberation Serif", serif' font-style="italic">P</text>
<text x="101.15" y="623" font-size="14.2" font-family='"Liberation Serif", serif'>=</text>
<text x="113.35" y="623" font-size="14.2" font-family='"Liberation Serif", serif'>.013</text>
<line x1="167.8" y1="582.8" x2="196.5" y2="582.8" stroke="#000" stroke-width="2"/>
<circle cx="172.4" cy="604.9" r="1.55" fill="#000"/>
<circle cx="181.6" cy="604.9" r="1.55" fill="#000"/>
<circle cx="191.1" cy="604.9" r="1.55" fill="#000"/>
<line x1="324.8" y1="510" x2="324.8" y2="679.2" stroke="#333" stroke-width="1.3"/>
<line x1="322.4" y1="679.2" x2="324.8" y2="679.2" stroke="#333" stroke-width="1.3"/>
<text x="320.8" y="677.9" font-size="6.4" font-family='"Liberation Sans", sans-serif' text-anchor="end" fill="#111" stroke="#111" stroke-width="0.3">0</text>
<line x1="322.4" y1="662.34" x2="324.8" y2="662.34" stroke="#333" stroke-width="1.3"/>
<text x="320.8" y="664.64" font-size="6.4" font-family='"Liberation Sans", sans-serif' text-anchor="end" fill="#111" stroke="#111" stroke-width="0.3">10</text>
<line x1="322.4" y1="645.48" x2="324.8" y2="645.48" stroke="#333" stroke-width="1.3"/>
<text x="320.8" y="647.78" font-size="6.4" font-family='"Liberation Sans", sans-serif' text-anchor="end" fill="#111" stroke="#111" stroke-width="0.3">20</text>
<line x1="322.4" y1="628.62" x2="324.8" y2="628.62" stroke="#333" stroke-width="1.3"/>
<text x="320.8" y="630.92" font-size="6.4" font-family='"Liberation Sans", sans-serif' text-anchor="end" fill="#111" stroke="#111" stroke-width="0.3">30</text>
<line x1="322.4" y1="611.76" x2="324.8" y2="611.76" stroke="#333" stroke-width="1.3"/>
<text x="320.8" y="614.06" font-size="6.4" font-family='"Liberation Sans", sans-serif' text-anchor="end" fill="#111" stroke="#111" stroke-width="0.3">40</text>
<line x1="322.4" y1="594.9" x2="324.8" y2="594.9" stroke="#333" stroke-width="1.3"/>
<text x="320.8" y="597.2" font-size="6.4" font-family='"Liberation Sans", sans-serif' text-anchor="end" fill="#111" stroke="#111" stroke-width="0.3">50</text>
<line x1="322.4" y1="578.04" x2="324.8" y2="578.04" stroke="#333" stroke-width="1.3"/>
<text x="320.8" y="580.34" font-size="6.4" font-family='"Liberation Sans", sans-serif' text-anchor="end" fill="#111" stroke="#111" stroke-width="0.3">60</text>
<line x1="322.4" y1="561.18" x2="324.8" y2="561.18" stroke="#333" stroke-width="1.3"/>
<text x="320.8" y="563.48" font-size="6.4" font-family='"Liberation Sans", sans-serif' text-anchor="end" fill="#111" stroke="#111" stroke-width="0.3">70</text>
<line x1="322.4" y1="544.32" x2="324.8" y2="544.32" stroke="#333" stroke-width="1.3"/>
<text x="320.8" y="546.62" font-size="6.4" font-family='"Liberation Sans", sans-serif' text-anchor="end" fill="#111" stroke="#111" stroke-width="0.3">80</text>
<line x1="322.4" y1="527.46" x2="324.8" y2="527.46" stroke="#333" stroke-width="1.3"/>
<text x="320.8" y="529.76" font-size="6.4" font-family='"Liberation Sans", sans-serif' text-anchor="end" fill="#111" stroke="#111" stroke-width="0.3">90</text>
<line x1="322.4" y1="510.6" x2="324.8" y2="510.6" stroke="#333" stroke-width="1.3"/>
<text x="320.8" y="512.9" font-size="6.4" font-family='"Liberation Sans", sans-serif' text-anchor="end" fill="#111" stroke="#111" stroke-width="0.3">100</text>
<line x1="324.2" y1="679.2" x2="503" y2="679.2" stroke="#333" stroke-width="1.3"/>
<line x1="324" y1="679.2" x2="324" y2="681.3" stroke="#111" stroke-width="2.4"/>
<text x="324" y="688.5" font-size="6.4" font-family='"Liberation Sans", sans-serif' text-anchor="middle" fill="#111" stroke="#111" stroke-width="0.3">0</text>
<line x1="335.85" y1="679.2" x2="335.85" y2="681.3" stroke="#111" stroke-width="2.4"/>
<text x="335.85" y="688.5" font-size="6.4" font-family='"Liberation Sans", sans-serif' text-anchor="middle" fill="#111" stroke="#111" stroke-width="0.3">1</text>
<line x1="347.69" y1="679.2" x2="347.69" y2="681.3" stroke="#111" stroke-width="2.4"/>
<text x="347.69" y="688.5" font-size="6.4" font-family='"Liberation Sans", sans-serif' text-anchor="middle" fill="#111" stroke="#111" stroke-width="0.3">2</text>
<line x1="359.54" y1="679.2" x2="359.54" y2="681.3" stroke="#111" stroke-width="2.4"/>
<text x="359.54" y="688.5" font-size="6.4" font-family='"Liberation Sans", sans-serif' text-anchor="middle" fill="#111" stroke="#111" stroke-width="0.3">3</text>
<line x1="371.39" y1="679.2" x2="371.39" y2="681.3" stroke="#111" stroke-width="2.4"/>
<text x="371.39" y="688.5" font-size="6.4" font-family='"Liberation Sans", sans-serif' text-anchor="middle" fill="#111" stroke="#111" stroke-width="0.3">4</text>
<line x1="383.23" y1="679.2" x2="383.23" y2="681.3" stroke="#111" stroke-width="2.4"/>
<text x="383.23" y="688.5" font-size="6.4" font-family='"Liberation Sans", sans-serif' text-anchor="middle" fill="#111" stroke="#111" stroke-width="0.3">5</text>
<line x1="395.08" y1="679.2" x2="395.08" y2="681.3" stroke="#111" stroke-width="2.4"/>
<text x="395.08" y="688.5" font-size="6.4" font-family='"Liberation Sans", sans-serif' text-anchor="middle" fill="#111" stroke="#111" stroke-width="0.3">6</text>
<line x1="406.93" y1="679.2" x2="406.93" y2="681.3" stroke="#111" stroke-width="2.4"/>
<text x="406.93" y="688.5" font-size="6.4" font-family='"Liberation Sans", sans-serif' text-anchor="middle" fill="#111" stroke="#111" stroke-width="0.3">7</text>
<line x1="418.77" y1="679.2" x2="418.77" y2="681.3" stroke="#111" stroke-width="2.4"/>
<text x="418.77" y="688.5" font-size="6.4" font-family='"Liberation Sans", sans-serif' text-anchor="middle" fill="#111" stroke="#111" stroke-width="0.3">8</text>
<line x1="430.62" y1="679.2" x2="430.62" y2="681.3" stroke="#111" stroke-width="2.4"/>
<text x="430.62" y="688.5" font-size="6.4" font-family='"Liberation Sans", sans-serif' text-anchor="middle" fill="#111" stroke="#111" stroke-width="0.3">9</text>
<line x1="442.47" y1="679.2" x2="442.47" y2="681.3" stroke="#111" stroke-width="2.4"/>
<text x="442.47" y="688.5" font-size="6.4" font-family='"Liberation Sans", sans-serif' text-anchor="middle" fill="#111" stroke="#111" stroke-width="0.3">10</text>
<line x1="454.31" y1="679.2" x2="454.31" y2="681.3" stroke="#111" stroke-width="2.4"/>
<text x="454.31" y="688.5" font-size="6.4" font-family='"Liberation Sans", sans-serif' text-anchor="middle" fill="#111" stroke="#111" stroke-width="0.3">11</text>
<line x1="466.16" y1="679.2" x2="466.16" y2="681.3" stroke="#111" stroke-width="2.4"/>
<text x="466.16" y="688.5" font-size="6.4" font-family='"Liberation Sans", sans-serif' text-anchor="middle" fill="#111" stroke="#111" stroke-width="0.3">12</text>
<line x1="478.01" y1="679.2" x2="478.01" y2="681.3" stroke="#111" stroke-width="2.4"/>
<text x="478.01" y="688.5" font-size="6.4" font-family='"Liberation Sans", sans-serif' text-anchor="middle" fill="#111" stroke="#111" stroke-width="0.3">13</text>
<line x1="489.85" y1="679.2" x2="489.85" y2="681.3" stroke="#111" stroke-width="2.4"/>
<text x="489.85" y="688.5" font-size="6.4" font-family='"Liberation Sans", sans-serif' text-anchor="middle" fill="#111" stroke="#111" stroke-width="0.3">14</text>
<line x1="501.7" y1="679.2" x2="501.7" y2="681.3" stroke="#111" stroke-width="2.4"/>
<text x="501.7" y="688.5" font-size="6.4" font-family='"Liberation Sans", sans-serif' text-anchor="middle" fill="#111" stroke="#111" stroke-width="0.3">15</text>
<text x="399" y="709" font-size="9.3" font-family='"Liberation Sans", sans-serif' fill="#111" stroke="#111" stroke-width="0.2">Time (y)</text>
<text x="0" y="0" font-size="8.74" font-family='"Liberation Sans", sans-serif' text-anchor="middle" fill="#111" stroke="#111" stroke-width="0.3" transform="translate(301.3,594.9) rotate(-90)">Overall Survival (%)</text>
<text x="287.2" y="499.7" font-size="12" font-family='"Liberation Sans", sans-serif' stroke="#000" stroke-width="0.15">Group C</text>
<polyline points="334.5,510.3 350,511.5 372,512.8 382,514.2 420,515.2 424,517.5 450,518 451.5,519.7 467,519.7 468.5,522.8 484.5,523 486,523.9 500.5,524 502.2,526.8" fill="none" stroke="#000" stroke-width="3.4" stroke-linecap="butt" stroke-linejoin="miter"/>
<polyline points="334.5,510 338,515 344.5,518.7" fill="none" stroke="#000" stroke-width="4.6" stroke-linecap="butt" stroke-linejoin="miter"/>
<polyline points="376,521.6 385,524.5 393.3,527.4" fill="none" stroke="#000" stroke-width="4.8" stroke-linecap="butt" stroke-linejoin="miter"/>
<polyline points="395,529.2 400,531 406.6,533.4" fill="none" stroke="#000" stroke-width="4.8" stroke-linecap="butt" stroke-linejoin="miter"/>
<polyline points="426.5,533.8 432,537.5 436,540 441,541.2" fill="none" stroke="#000" stroke-width="4.8" stroke-linecap="butt" stroke-linejoin="miter"/>
<rect x="344.5" y="516.6" width="6.3" height="4.3" fill="#000"/>
<rect x="354.1" y="516.6" width="6.7" height="4.3" fill="#000"/>
<rect x="362.3" y="518.8" width="7.7" height="4.8" fill="#000"/>
<rect x="373.3" y="520" width="6.7" height="4.6" fill="#000"/>
<rect x="409.5" y="531.3" width="6.9" height="4.6" fill="#000"/>
<rect x="419.8" y="531.3" width="7" height="4.6" fill="#000"/>
<rect x="443.4" y="538.8" width="6.8" height="4.6" fill="#000"/>
<rect x="453.5" y="538.8" width="6.8" height="4.6" fill="#000"/>
<rect x="463" y="538.8" width="6.7" height="4.6" fill="#000"/>
<rect x="473" y="538.8" width="6.2" height="4.6" fill="#000"/>
<rect x="482.5" y="538.8" width="6.7" height="4.6" fill="#000"/>
<rect x="490.5" y="540.8" width="4.8" height="6" fill="#000"/>
<rect x="492.6" y="544.8" width="6.7" height="4.7" fill="#000"/>
<text x="364.45" y="589.1" font-size="14.2" font-family='"Liberation Serif", serif'>age &lt;40years</text>
<text x="364.45" y="606.05" font-size="14.2" font-family='"Liberation Serif", serif'>age ≥40years</text>
<text x="365.25" y="623" font-size="14.2" font-family='"Liberation Serif", serif' font-style="italic">P</text>
<text x="376.75" y="623" font-size="14.2" font-family='"Liberation Serif", serif'>=</text>
<text x="388.1" y="623" font-size="14.2" font-family='"Liberation Serif", serif'>.0017</text>
<line x1="443.4" y1="582.8" x2="472.2" y2="582.8" stroke="#000" stroke-width="2"/>
<circle cx="448" cy="604.9" r="1.55" fill="#000"/>
<circle cx="457.6" cy="604.9" r="1.55" fill="#000"/>
<circle cx="466.8" cy="604.9" r="1.55" fill="#000"/>
<text x="47.2" y="10" font-size="14.2" font-family='"Liberation Serif", serif' font-weight="bold">Mortality in complete remission</text>
<text x="322.6" y="10.3" font-size="14.2" font-family='"Liberation Serif", serif' font-weight="bold">Survival rates</text>
</svg>
</body></html>
